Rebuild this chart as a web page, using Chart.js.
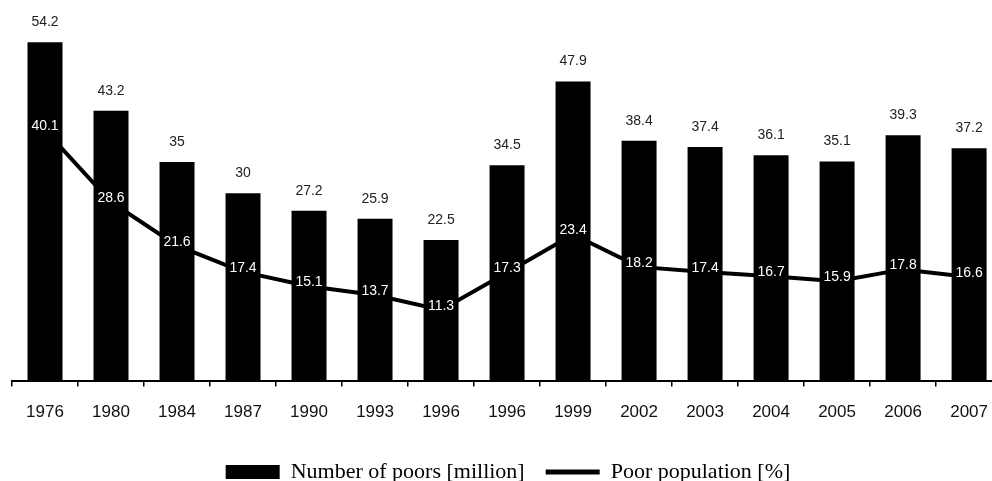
<!DOCTYPE html>
<html>
<head>
<meta charset="utf-8">
<script src="https://cdn.jsdelivr.net/npm/chart.js@4"></script>
<style>
  html, body { margin: 0; padding: 0; background: #fff; overflow: hidden; }
  #wrap { position: absolute; left: 0; top: 0; width: 1004px; height: 493px; }
</style>
</head>
<body>
<div id="wrap"><canvas id="chart"></canvas></div>
<script>
const years = ['1976', '1980', '1984', '1987', '1990', '1993', '1996', '1996', '1999', '2002', '2003', '2004', '2005', '2006', '2007'];
const poors = [54.2, 43.2, 35, 30, 27.2, 25.9, 22.5, 34.5, 47.9, 38.4, 37.4, 36.1, 35.1, 39.3, 37.2];
const poorPct = [40.1, 28.6, 21.6, 17.4, 15.1, 13.7, 11.3, 17.3, 23.4, 18.2, 17.4, 16.7, 15.9, 17.8, 16.6];

// value labels: dark above the bars, white on the line points
const valueLabels = {
  id: 'valueLabels',
  afterDatasetsDraw(chart) {
    const ctx = chart.ctx;
    ctx.save();
    ctx.textAlign = 'center';
    ctx.textBaseline = 'middle';
    ctx.font = '14px "Liberation Sans", Arial, sans-serif';

    const bars = chart.getDatasetMeta(0).data;
    ctx.fillStyle = '#222';
    bars.forEach((b, i) => {
      ctx.fillText(String(poors[i]), b.x, b.y - 20);
    });

    const pts = chart.getDatasetMeta(1).data;
    ctx.fillStyle = '#fff';
    pts.forEach((p, i) => {
      ctx.fillText(poorPct[i].toFixed(1), p.x, p.y - 4);
    });
    ctx.restore();
  }
};

const ctx = document.getElementById('chart').getContext('2d');
new Chart(ctx, {
  type: 'bar',
  data: {
    labels: years,
    datasets: [
      {
        label: 'Number of poors [million]',
        data: poors,
        backgroundColor: '#000',
        borderColor: '#000',
        borderWidth: 0,
        categoryPercentage: 1,
        barPercentage: 0.53
      },
      {
        type: 'line',
        label: 'Poor population [%]',
        data: poorPct,
        borderColor: '#000',
        backgroundColor: '#000',
        borderWidth: 4,
        pointRadius: 0,
        tension: 0,
        fill: false
      }
    ]
  },
  options: {
    responsive: true,
    maintainAspectRatio: false,
    animation: false,
    layout: { padding: { left: 12, right: 0, top: 6, bottom: 0 } },
    plugins: {
      tooltip: { enabled: false },
      legend: {
        position: 'bottom',
        labels: {
          usePointStyle: true,
          pointStyleWidth: 54,
          boxHeight: 14,
          padding: 21,
          color: '#000',
          font: { family: '"Liberation Serif", "Times New Roman", serif', size: 22 },
          generateLabels(chart) {
            const items = Chart.defaults.plugins.legend.labels.generateLabels(chart);
            items.forEach(it => {
              it.fillStyle = '#000';
              it.strokeStyle = '#000';
              if (it.datasetIndex === 0) {
                it.pointStyle = 'rect';
                it.lineWidth = 0;
              } else {
                it.pointStyle = 'line';
                it.lineWidth = 5;
              }
            });
            return items.sort((a, b) => a.datasetIndex - b.datasetIndex);
          }
        }
      }
    },
    scales: {
      x: {
        offset: true,
        grid: {
          display: true,
          offset: true,
          drawOnChartArea: false,
          drawTicks: true,
          tickLength: 6,
          color: '#000',
          lineWidth: 1.5
        },
        border: { display: true, color: '#000', width: 2 },
        ticks: {
          color: '#111',
          padding: 16,
          font: { family: '"Liberation Sans", Arial, sans-serif', size: 17 }
        },
        afterFit(scale) {
          scale.height = 59.5;
        }
      },
      y: {
        display: false,
        min: 0,
        max: 60
      }
    }
  },
  plugins: [valueLabels]
});
</script>
</body>
</html>
